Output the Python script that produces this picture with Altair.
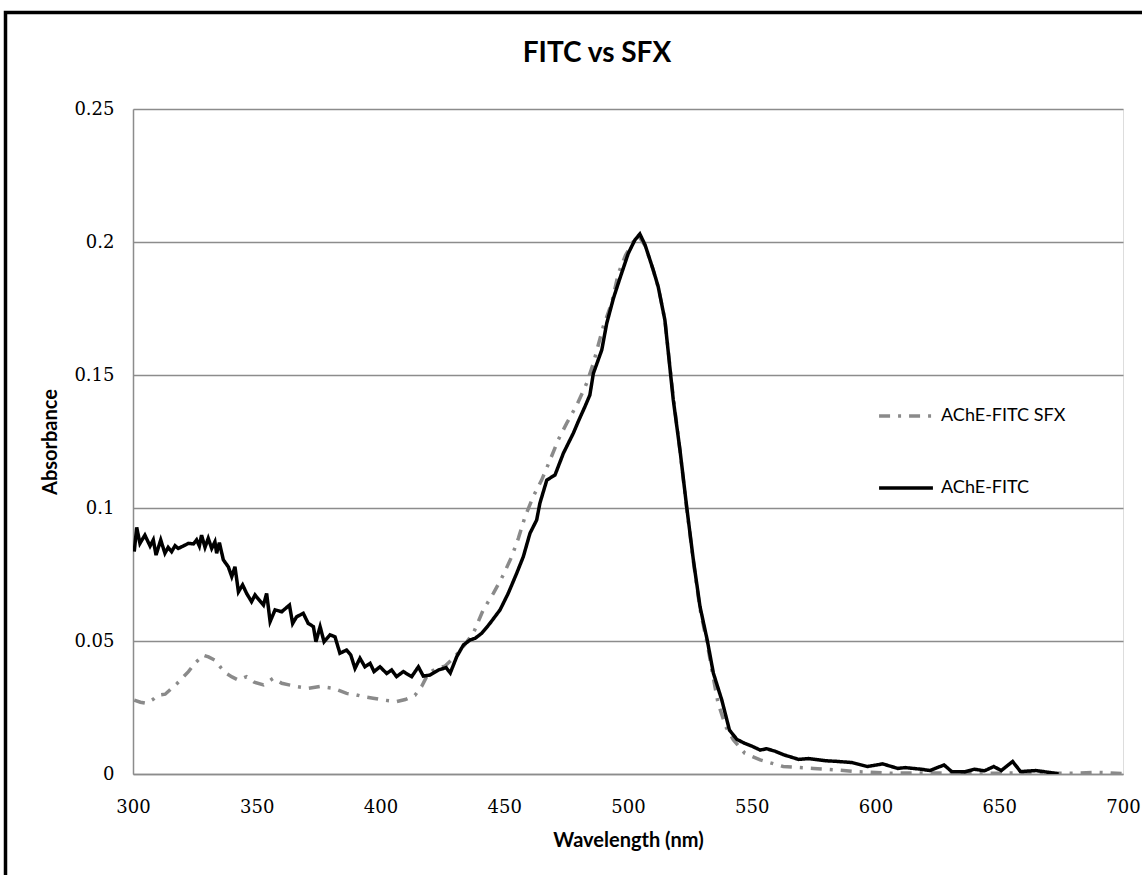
import altair as alt
import pandas as pd

# AChE-FITC (solid black)
fitc_wl = [300.5, 301.5, 302.8, 304.8, 306.9, 308.2, 309.3, 311.2, 312.9, 314.2, 315.6, 317.0, 318.3, 320.3,
           322.4, 324.4, 325.7, 326.8, 327.7, 329.1, 330.4, 331.8, 333.1, 333.8, 334.9, 336.5,
           338.5, 339.9, 341.2, 342.6, 344.3, 345.9, 347.9, 349.3, 352.7, 354.0, 355.4, 357.4,
           360.1, 363.2, 364.5, 366.1, 368.8, 370.8, 372.9, 373.9, 375.6, 377.2, 379.6, 381.6,
           383.6, 386.3, 388.0, 389.7, 391.7, 393.7, 395.8, 397.4, 399.8, 402.5, 404.5, 406.5,
           409.2, 412.6, 415.3, 417.3, 420.0, 423.4, 426.5, 428.2, 430.8, 433.5, 436.2, 438.2,
           440.9, 444.2, 448.3, 451.6, 455.0, 457.7, 460.4, 463.1, 464.4, 467.2, 470.5, 473.9,
           477.9, 479.9, 482.6, 484.6, 486.0, 489.4, 491.4, 494.1, 496.5, 500.1, 502.8, 504.8,
           506.9, 510.2, 512.2, 514.9, 516.9, 518.3, 521.0, 523.7, 526.4, 529.1, 532.0, 534.5,
           537.9, 541.0, 544.0, 547.2, 550.0, 553.4, 556.0, 559.6, 563.0, 568.9, 573.0, 579.7,
           585.0, 590.5, 596.7, 602.9, 609.0, 612.0, 618.4, 622.0, 627.7, 630.8, 636.0, 640.0,
           644.0, 647.8, 650.8, 655.4, 658.6, 664.8, 671.0, 674.0]
fitc_abs = [0.0836, 0.0927, 0.0867, 0.0898, 0.0857, 0.0880, 0.0823, 0.0880, 0.0830, 0.0852, 0.0836, 0.0858, 0.0848, 0.0857,
            0.0867, 0.0865, 0.0880, 0.0857, 0.0898, 0.0852, 0.0886, 0.0848, 0.0873, 0.0830, 0.0870, 0.0805,
            0.0779, 0.0742, 0.0779, 0.0685, 0.0711, 0.0679, 0.0648, 0.0673, 0.0635, 0.0679, 0.0573, 0.0617,
            0.0610, 0.0635, 0.0566, 0.0591, 0.0604, 0.0566, 0.0554, 0.0497, 0.0554, 0.0497, 0.0523, 0.0516,
            0.0454, 0.0466, 0.0447, 0.0397, 0.0435, 0.0403, 0.0416, 0.0385, 0.0403, 0.0378, 0.0391, 0.0366,
            0.0385, 0.0366, 0.0403, 0.0368, 0.0372, 0.0391, 0.0400, 0.0380, 0.0441, 0.0485, 0.0504, 0.0510,
            0.0529, 0.0566, 0.0617, 0.0679, 0.0754, 0.0817, 0.0905, 0.0955, 0.1018, 0.1105, 0.1124, 0.1206,
            0.1281, 0.1325, 0.1381, 0.1425, 0.1506, 0.1594, 0.1694, 0.1788, 0.1857, 0.1957, 0.2008, 0.2030,
            0.1989, 0.1895, 0.1832, 0.1707, 0.1530, 0.1406, 0.1218, 0.1005, 0.0805, 0.0629, 0.0504, 0.0379,
            0.0278, 0.0165, 0.0130, 0.0115, 0.0105, 0.0090, 0.0095, 0.0085, 0.0072, 0.0055, 0.0058, 0.0050,
            0.0047, 0.0043, 0.0028, 0.0038, 0.0021, 0.0024, 0.0018, 0.0013, 0.0034, 0.0009, 0.0008, 0.0018,
            0.0012, 0.0028, 0.0013, 0.0047, 0.0009, 0.0013, 0.0005, 0.0000]

# AChE-FITC SFX (grey dash-dot)
sfx_wl = [300.5, 303.0, 305.3, 308.0, 310.0, 313.0, 317.9, 322.4, 325.0, 328.4, 330.5, 333.1,
          335.5, 337.8, 340.0, 342.6, 345.9, 349.0, 352.7, 356.7, 360.1, 363.0, 366.1, 370.8,
          375.6, 381.0, 386.3, 390.0, 393.0, 397.0, 401.2, 406.5, 410.0, 413.9, 416.6, 419.3,
          422.6, 426.0, 430.0, 433.5, 437.5, 441.5, 445.6, 449.6, 453.0, 455.7, 458.4, 461.7,
          465.1, 468.5, 471.8, 475.2, 479.3, 483.3, 486.0, 490.0, 493.4, 496.1, 499.0, 502.0,
          504.5, 507.0, 510.0, 512.5, 515.0, 518.0, 521.0, 523.7, 526.4, 529.1, 532.0, 534.5,
          536.4, 539.5, 542.6, 547.2, 553.4, 562.7, 575.0, 584.3, 592.0, 606.0, 620.0, 640.0,
          660.0, 680.0, 690.0, 700.0]
sfx_abs = [0.0278, 0.0270, 0.0266, 0.0280, 0.0296, 0.0300, 0.0341, 0.0385, 0.0416, 0.0447, 0.0440, 0.0428,
           0.0400, 0.0378, 0.0365, 0.0353, 0.0366, 0.0345, 0.0335, 0.0360, 0.0341, 0.0335, 0.0329, 0.0322,
           0.0329, 0.0322, 0.0303, 0.0298, 0.0291, 0.0285, 0.0278, 0.0272, 0.0280, 0.0296, 0.0329, 0.0378,
           0.0397, 0.0405, 0.0440, 0.0480, 0.0529, 0.0617, 0.0679, 0.0748, 0.0817, 0.0886, 0.0967, 0.1043,
           0.1105, 0.1180, 0.1256, 0.1318, 0.1387, 0.1469, 0.1544, 0.1682, 0.1770, 0.1882, 0.1950, 0.2000,
           0.2020, 0.1985, 0.1900, 0.1820, 0.1700, 0.1440, 0.1215, 0.1000, 0.0800, 0.0620, 0.0490, 0.0360,
           0.0266, 0.0178, 0.0128, 0.0078, 0.0053, 0.0028, 0.0021, 0.0015, 0.0009, 0.0003, 0.0004, 0.0002,
           0.0004, 0.0003, 0.0006, 0.0002]

series_names = ["AChE-FITC SFX", "AChE-FITC"]
series_colors = ["#8a8a8a", "#000000"]
series_dash = [[11, 8, 3, 8], [1, 0]]
chart_title = "FITC vs SFX"

rows = []
for w, a in zip(sfx_wl, sfx_abs):
    rows.append({"wl": w, "abs": a, "series": series_names[0]})
for w, a in zip(fitc_wl, fitc_abs):
    rows.append({"wl": w, "abs": a, "series": series_names[1]})
df = pd.DataFrame(rows)

W, H = 990, 665
PL, PT = 133, 109

lines = alt.Chart(df).mark_line(strokeWidth=3.5, clip=True).encode(
    x=alt.X("wl:Q", scale=alt.Scale(domain=[300, 700], nice=False),
            axis=alt.Axis(values=[300, 350, 400, 450, 500, 550, 600, 650, 700],
                          title="Wavelength (nm)", grid=False, ticks=False,
                          domainColor="#8c8c8c", domainWidth=1.5,
                          labelFont="DejaVu Serif", labelFontSize=18, labelColor="#000",
                          labelPadding=24, labelFlush=False,
                          titleFont="Lato", titleFontSize=20, titleFontWeight="bold",
                          titleColor="#000", titleY=66, titleBaseline="middle")),
    y=alt.Y("abs:Q", scale=alt.Scale(domain=[0, 0.25], nice=False),
            axis=alt.Axis(values=[0, 0.05, 0.1, 0.15, 0.2, 0.25], format="~g",
                          title="Absorbance", grid=True, gridColor="#8c8c8c", gridWidth=1.3,
                          ticks=False, domainColor="#8c8c8c", domainWidth=1.5,
                          labelFont="DejaVu Serif", labelFontSize=18, labelColor="#000",
                          labelPadding=19, labelFlush=False,
                          titleFont="Lato", titleFontSize=20, titleFontWeight="bold",
                          titleColor="#000", titleX=-83, titleY=H / 2, titleAngle=270,
                          titleBaseline="middle", titleAlign="center")),
    color=alt.Color("series:N", scale=alt.Scale(domain=series_names, range=series_colors),
                    sort=series_names,
                    legend=alt.Legend(title=None, orient="none", legendX=744, legendY=278,
                                      symbolType="stroke", symbolSize=2900, symbolStrokeWidth=3.5,
                                      labelFont="Lato", labelFontSize=18, labelColor="#000",
                                      rowPadding=34, labelOffset=6, padding=0)),
    strokeDash=alt.StrokeDash("series:N", scale=alt.Scale(domain=series_names, range=series_dash),
                              sort=series_names, legend=None),
    order=alt.Order("wl:Q"),
)

title = alt.Chart(alt.Data(values=[{"t": chart_title}])).mark_text(
    font="Lato", fontSize=28, fontWeight="bold", color="#000",
    align="center", baseline="middle", clip=False
).encode(text="t:N", x=alt.value(597 - PL), y=alt.value(54 - PT))

border = alt.Chart(alt.Data(values=[{}])).mark_rect(
    fill="transparent", stroke="#000", strokeWidth=3.5, clip=False
).encode(
    x=alt.value(5.5 - PL), x2=alt.value(1160 - PL),
    y=alt.value(12.5 - PT), y2=alt.value(900 - PT),
)

chart = alt.layer(lines, title, border).properties(
    width=W, height=H,
    autosize=alt.AutoSizeParams(type="none"),
    padding={"left": PL, "top": PT, "right": 1142 - PL - W, "bottom": 875 - PT - H},
).configure_view(stroke=None).configure(background="white")

chart.save("out.html", embed_options={"renderer": "svg", "actions": False})
